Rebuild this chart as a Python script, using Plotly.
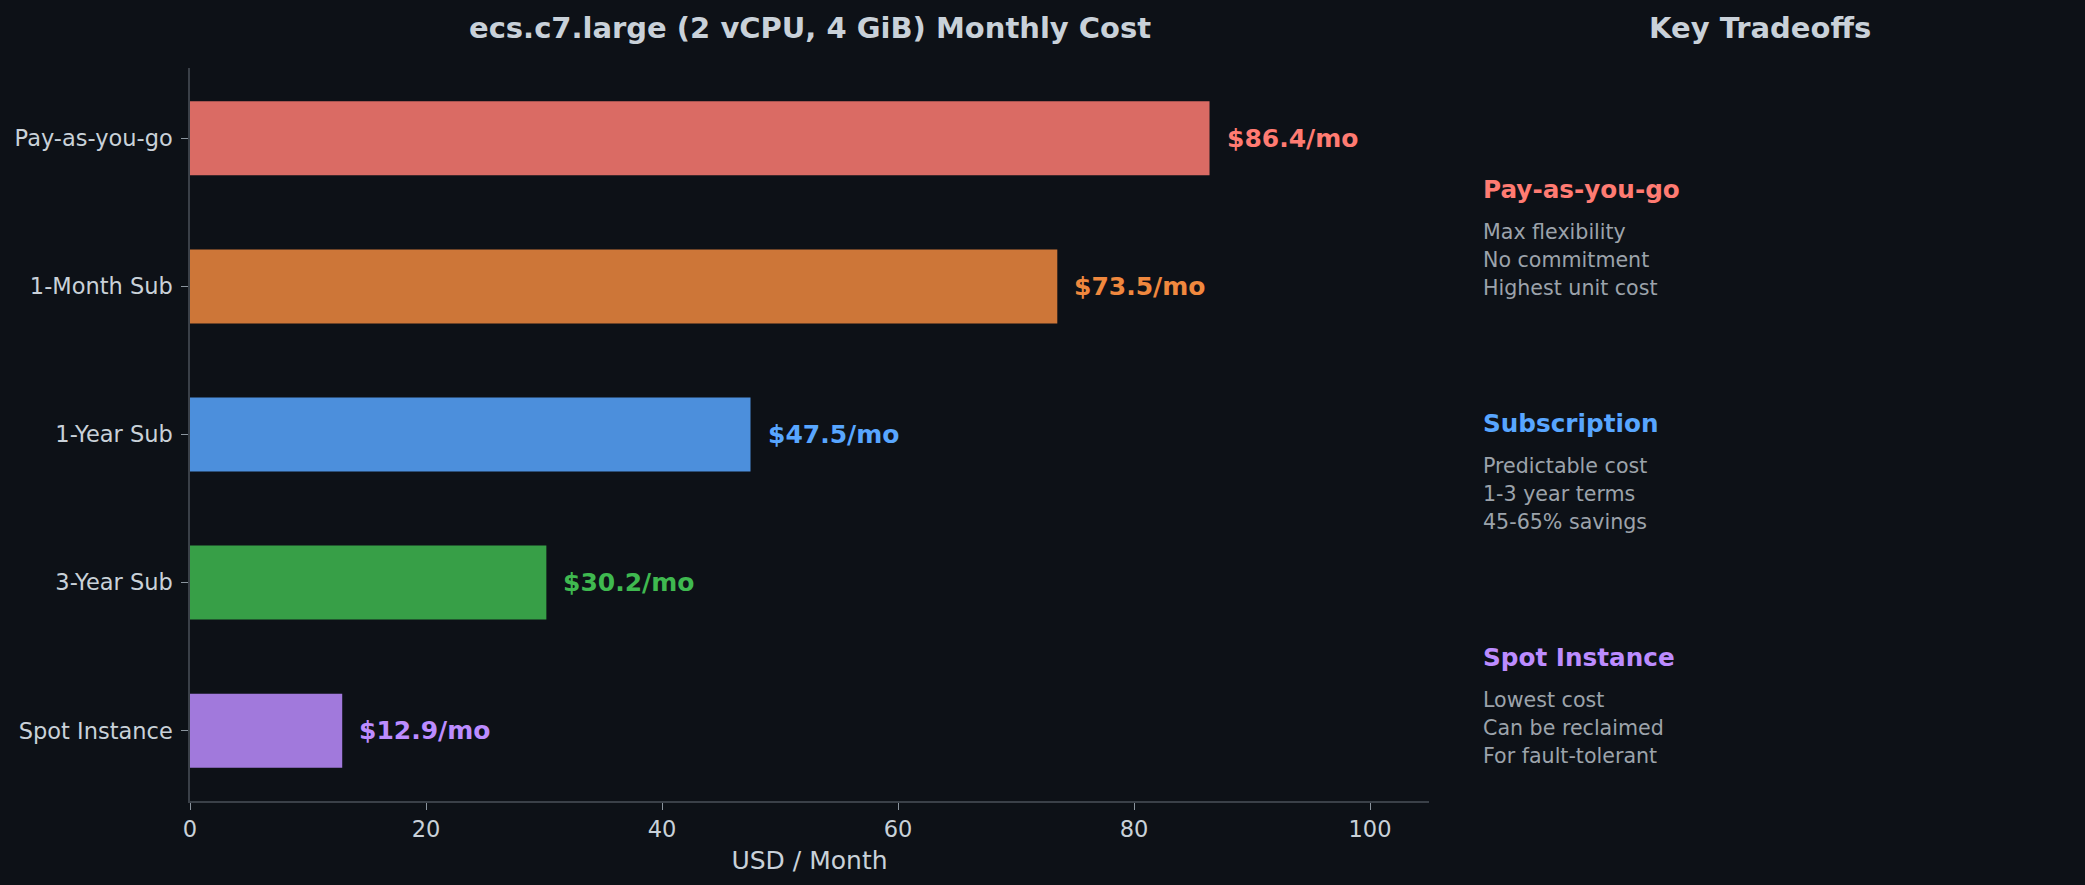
import plotly.graph_objects as go

# ---- data ----
categories = ["Pay-as-you-go", "1-Month Sub", "1-Year Sub", "3-Year Sub", "Spot Instance"]
monthly_cost = [86.4, 73.5, 47.5, 30.2, 12.9]
base_colors = ["#ff7b72", "#f0883e", "#58a6ff", "#3fb950", "#bc8cff"]
x_ticks = [0, 20, 40, 60, 80, 100]

tradeoff_titles = ["Pay-as-you-go", "Subscription", "Spot Instance"]
tradeoff_colors = ["#ff7b72", "#58a6ff", "#bc8cff"]
tradeoff_lines = [
    ["Max flexibility", "No commitment", "Highest unit cost"],
    ["Predictable cost", "1-3 year terms", "45-65% savings"],
    ["Lowest cost", "Can be reclaimed", "For fault-tolerant"],
]

# ---- layout constants ----
W, H = 2085, 885
L, R, T, B = 190, 1429, 68, 801
BG = "#0d1117"
TXT = "#c9d1d9"
SUB = "#9ca3ab"
SPINE = "#3a4048"
FONT = "DejaVu Sans"


def hexa(c, a):
    c = c.lstrip("#")
    r, g, b = int(c[0:2], 16), int(c[2:4], 16), int(c[4:6], 16)
    return f"rgba({r},{g},{b},{a})"


def px(xp):
    return (xp - L) / (R - L)


def py(yp):
    return (B - yp) / (B - T)


fig = go.Figure()
fig.add_trace(go.Bar(
    x=monthly_cost, y=categories, orientation="h", width=0.5,
    marker=dict(color=[hexa(c, 0.85) for c in base_colors], line=dict(width=0)),
    hoverinfo="x+y", showlegend=False,
))

annotations = []
for cat, v, c in zip(categories, monthly_cost, base_colors):
    annotations.append(dict(
        x=v, y=cat, xref="x", yref="y", text=f"${v}/mo", showarrow=False,
        xanchor="left", yanchor="middle", xshift=15,
        font=dict(family=FONT, size=25, color=c, weight="bold"),
    ))

# titles
annotations.append(dict(x=0.5, y=py(28), xref="paper", yref="paper",
                        text="ecs.c7.large (2 vCPU, 4 GiB) Monthly Cost", showarrow=False,
                        xanchor="center", yanchor="middle",
                        font=dict(family=FONT, size=29, color=TXT, weight="bold")))
annotations.append(dict(x=px(1760), y=py(28), xref="paper", yref="paper",
                        text="Key Tradeoffs", showarrow=False,
                        xanchor="center", yanchor="middle",
                        font=dict(family=FONT, size=29, color=TXT, weight="bold")))

# right panel
head_y = [189, 423, 657]
for i, (t, c, lines) in enumerate(zip(tradeoff_titles, tradeoff_colors, tradeoff_lines)):
    annotations.append(dict(x=px(1481), y=py(head_y[i]), xref="paper", yref="paper",
                            text=t, showarrow=False, xanchor="left", yanchor="middle",
                            font=dict(family=FONT, size=24.7, color=c, weight="bold")))
    for j, ln in enumerate(lines):
        annotations.append(dict(x=px(1481), y=py(head_y[i] + 42.5 + 28.3 * j), xref="paper", yref="paper",
                                text=ln, showarrow=False, xanchor="left", yanchor="middle",
                                font=dict(family=FONT, size=20.6, color=SUB)))

fig.update_layout(
    width=W, height=H,
    margin=dict(l=L, r=W - R, t=T, b=H - B, pad=0),
    paper_bgcolor=BG, plot_bgcolor=BG,
    font=dict(family=FONT, color=TXT),
    annotations=annotations,
    bargap=0.5,
    xaxis=dict(
        range=[0, 105], tickvals=x_ticks, ticktext=[str(t) for t in x_ticks],
        showgrid=False, zeroline=False,
        showline=True, linecolor=SPINE, linewidth=1.5,
        ticks="outside", ticklen=7, tickwidth=1.2, tickcolor="#8b949e",
        tickfont=dict(family=FONT, size=22.5, color=TXT),
        title=dict(text="USD / Month", font=dict(family=FONT, size=25, color=TXT), standoff=11),
    ),
    yaxis=dict(
        range=[4.475, -0.475], type="category",
        showgrid=False, zeroline=False,
        showline=True, linecolor=SPINE, linewidth=1.5,
        ticks="outside", ticklen=7, tickwidth=1.2, tickcolor="#8b949e",
        tickfont=dict(family=FONT, size=22.5, color=TXT),
        ticklabelstandoff=4,
    ),
)

fig.write_html("out.html")
